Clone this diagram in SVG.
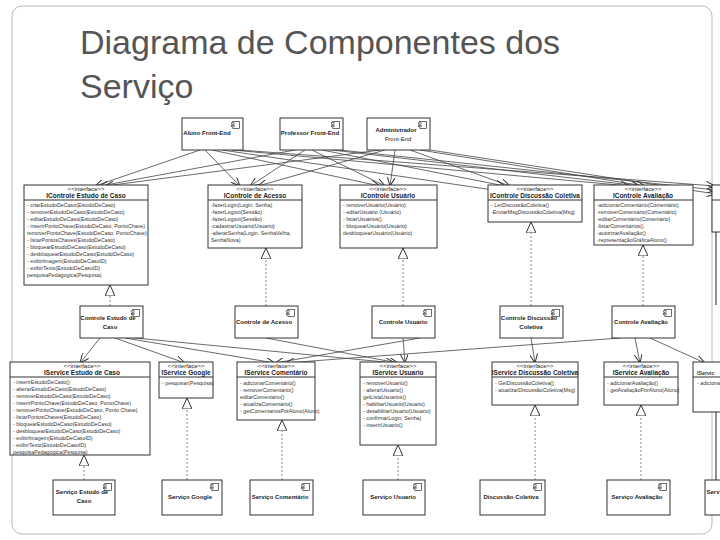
<svg xmlns="http://www.w3.org/2000/svg" width="720" height="540" viewBox="0 0 720 540">
<style>
.t{font-family:"Liberation Sans",Arial,sans-serif;fill:#555}
.b{fill:#fff;stroke:#333;stroke-width:1}
.s{font-family:"Liberation Sans",Arial,sans-serif;font-size:5.3px;fill:#333}
.n{font-family:"Liberation Sans",Arial,sans-serif;font-size:6.5px;fill:#222;font-weight:bold;text-anchor:middle}
.c{font-family:"Liberation Sans",Arial,sans-serif;font-size:6px;fill:#222;text-anchor:middle}
.l{stroke:#444;stroke-width:0.8;fill:none}
.d{stroke:#666;stroke-width:0.8;stroke-dasharray:2,2;fill:none}
</style>
<defs>
<marker id="a" markerWidth="10" markerHeight="8" refX="9" refY="4" orient="auto" markerUnits="userSpaceOnUse"><path d="M0,0 L9,4 L0,8" fill="none" stroke="#333"/></marker>
<marker id="tr" markerWidth="12" markerHeight="10" refX="11" refY="5" orient="auto" markerUnits="userSpaceOnUse"><path d="M0,0 L11,5 L0,10 Z" fill="#fff" stroke="#333"/></marker>
<symbol id="ic" viewBox="0 0 10 9"><rect x="2" y="0.5" width="7.5" height="8" fill="#fff" stroke="#333" stroke-width="0.8"/><rect x="0.5" y="2" width="3" height="1.5" fill="#fff" stroke="#333" stroke-width="0.6"/><rect x="0.5" y="5" width="3" height="1.5" fill="#fff" stroke="#333" stroke-width="0.6"/></symbol>
</defs>
<rect x="12" y="6" width="700" height="528" rx="10" fill="#fff" stroke="#bbb"/>
<text class="t" x="80" y="54" font-size="34">Diagrama de Componentes dos</text>
<text class="t" x="80" y="98" font-size="34">Serviço</text>

<g id="connectors">
<g class="l" marker-end="url(#a)">
<path class="l" marker-end="url(#a)" d="M200,150 L95,186"/><path class="l" marker-end="url(#a)" d="M205,150 L240,186"/><path class="l" marker-end="url(#a)" d="M212,150 L380,186"/><path class="l" marker-end="url(#a)" d="M222,150 L500,191"/><path class="l" marker-end="url(#a)" d="M232,150 L630,186"/><path class="l" marker-end="url(#a)" d="M240,150 L715,186"/>
<path class="l" marker-end="url(#a)" d="M295,150 L100,186"/><path class="l" marker-end="url(#a)" d="M305,150 L250,186"/><path class="l" marker-end="url(#a)" d="M312,150 L385,186"/><path class="l" marker-end="url(#a)" d="M322,150 L505,186"/><path class="l" marker-end="url(#a)" d="M332,150 L640,186"/><path class="l" marker-end="url(#a)" d="M340,150 L716,190"/>
<path class="l" marker-end="url(#a)" d="M380,150 L105,186"/><path class="l" marker-end="url(#a)" d="M385,150 L258,186"/><path class="l" marker-end="url(#a)" d="M395,150 L390,186"/><path class="l" marker-end="url(#a)" d="M410,150 L510,186"/><path class="l" marker-end="url(#a)" d="M420,150 L645,186"/><path class="l" marker-end="url(#a)" d="M430,150 L716,194"/>
<path class="l" marker-end="url(#a)" d="M100,338 L80,363"/><path class="l" marker-end="url(#a)" d="M115,338 L185,363"/><path class="l" marker-end="url(#a)" d="M125,338 L275,363"/><path class="l" marker-end="url(#a)" d="M135,338 L395,363"/><path class="l" marker-end="url(#a)" d="M266,338 L398,363"/><path class="l" marker-end="url(#a)" d="M403,338 L405,363"/><path class="l" marker-end="url(#a)" d="M531,338 L535,363"/><path class="l" marker-end="url(#a)" d="M635,338 L640,363"/><path class="l" marker-end="url(#a)" d="M650,338 L705,363"/><path class="l" marker-end="url(#a)" d="M620,338 L285,363"/><path class="l" marker-end="url(#a)" d="M420,338 L275,363"/>
</g>
<path class="d" marker-end="url(#tr)" d="M110,306 L110,285"/><path class="d" marker-end="url(#tr)" d="M266,306 L266,248"/><path class="d" marker-end="url(#tr)" d="M403,306 L403,248"/><path class="d" marker-end="url(#tr)" d="M531,306 L531,222"/><path class="d" marker-end="url(#tr)" d="M643,306 L643,245"/>
<path class="d" marker-end="url(#tr)" d="M84,480 L84,455"/><path class="d" marker-end="url(#tr)" d="M187,480 L187,398"/><path class="d" marker-end="url(#tr)" d="M282,480 L282,420"/><path class="d" marker-end="url(#tr)" d="M398,480 L398,445"/><path class="d" marker-end="url(#tr)" d="M535,480 L535,405"/><path class="d" marker-end="url(#tr)" d="M641,480 L641,405"/>
<path d="M716,412 L716,480" stroke="#222" stroke-width="1"/>
<path d="M716,232 L716,305" stroke="#222" stroke-width="1"/>
</g>

<g id="aluno"><rect class="b" x="182" y="118" width="61" height="32"/><use href="#ic" x="231" y="121" width="9" height="8"/><text class="c" x="207" y="135" font-weight="bold">Aluno Front-End</text></g>
<g id="professor"><rect class="b" x="280" y="118" width="63" height="32"/><use href="#ic" x="331" y="121" width="9" height="8"/><text class="c" x="310" y="135" font-weight="bold">Professor Front-End</text></g>
<g id="admin"><rect class="b" x="367" y="118" width="63" height="32"/><use href="#ic" x="418" y="121" width="9" height="8"/><text class="c" x="396" y="132" font-weight="bold">Administrador</text><text class="c" x="398" y="141">Front-End</text></g>

<g id="ice"><rect class="b" x="24" y="185" width="124" height="100"/><line x1="24" y1="200" x2="148" y2="200" stroke="#333"/><text class="c" x="86" y="191" font-size="5.5">&lt;&lt;interface&gt;&gt;</text><text class="n" x="86" y="198">IControle Estudo de Caso</text>
<text class="s" x="27" y="207">- criarEstudoDeCaso(EstudoDeCaso)</text><text class="s" x="27" y="214">- removerEstudoDeCaso(EstudoDeCaso)</text><text class="s" x="27" y="221">- editarEstudoDeCaso(EstudoDeCaso)</text><text class="s" x="27" y="228">- inserirPontoChave(EstudoDeCaso, PontoChave)</text><text class="s" x="27" y="235">  removerPontoChave(EstudoDeCaso, PontoChave)</text><text class="s" x="27" y="242">- listarPontosChaves(EstudoDeCaso)</text><text class="s" x="27" y="249">- bloquearEstudoDeCaso(EstudoDeCaso)</text><text class="s" x="27" y="256">- desbloquearEstudoDeCaso(EstudoDeCaso)</text><text class="s" x="27" y="263">- exibirImagem(EstudoDeCasoID)</text><text class="s" x="27" y="270">- exibirTexto(EstudoDeCasoID)</text><text class="s" x="27" y="277">  pesquisaPedagogica(Pesquisa)</text></g>
<g id="ica"><rect class="b" x="208" y="185" width="94" height="63"/><line x1="208" y1="200" x2="302" y2="200" stroke="#333"/><text class="c" x="255" y="191" font-size="5.5">&lt;&lt;interface&gt;&gt;</text><text class="n" x="255" y="198">IControle de Acesso</text>
<text class="s" x="211" y="207">-fazerLogin(Login, Senha)</text><text class="s" x="211" y="214">-fazerLogout(Sessão)</text><text class="s" x="211" y="221">-fazerLogout(Sessão)</text><text class="s" x="211" y="228">-cadastrarUsuario(Usuario)</text><text class="s" x="211" y="235">-alterarSenha(Login, SenhaVelha,</text><text class="s" x="211" y="242">SenhaNova)</text></g>
<g id="icu"><rect class="b" x="340" y="185" width="97" height="63"/><line x1="340" y1="200" x2="437" y2="200" stroke="#333"/><text class="c" x="388" y="191" font-size="5.5">&lt;&lt;interface&gt;&gt;</text><text class="n" x="388" y="198">IControle Usuário</text>
<text class="s" x="343" y="207">- removerUsuário(Usuário)</text><text class="s" x="343" y="214">- editarUsuário (Usuário)</text><text class="s" x="343" y="221">- listarUsuários()</text><text class="s" x="343" y="228">- bloquearUsuário(Usuário)</text><text class="s" x="343" y="235">  desbloquearUsuário(Usuário)</text></g>
<g id="icd"><rect class="b" x="488" y="185" width="94" height="37"/><line x1="488" y1="200" x2="582" y2="200" stroke="#333"/><text class="c" x="535" y="191" font-size="5.5">&lt;&lt;interface&gt;&gt;</text><text class="n" x="535" y="198" font-size="6">IControle Discussão Coletiva</text>
<text class="s" x="491" y="207">- LerDiscussãoColetiva()</text><text class="s" x="491" y="214">-EnviarMsgDiscussãoColetiva(Msg)</text></g>
<g id="icav"><rect class="b" x="594" y="185" width="99" height="60"/><line x1="594" y1="200" x2="693" y2="200" stroke="#333"/><text class="c" x="643" y="191" font-size="5.5">&lt;&lt;interface&gt;&gt;</text><text class="n" x="643" y="198">IControle Avaliação</text>
<text class="s" x="597" y="207">-adicionarComentário(Comentário)</text><text class="s" x="597" y="214">-removerComentário(Comentário)</text><text class="s" x="597" y="221">-editarComentário(Comentário)</text><text class="s" x="597" y="228">-listarComentários()</text><text class="s" x="597" y="235">-autorizarAvaliação()</text><text class="s" x="597" y="242">-representaçãoGráficaAluno()</text></g>
<g id="icx"><rect class="b" x="712" y="185" width="20" height="47"/><line x1="712" y1="200" x2="720" y2="200" stroke="#333"/></g>

<g id="cec"><rect class="b" x="80" y="306" width="63" height="32"/><use href="#ic" x="131" y="309" width="9" height="8"/><text class="c" x="108" y="320" font-weight="bold">Controle Estudo de</text><text class="c" x="110" y="329" font-weight="bold">Caso</text></g>
<g id="cac"><rect class="b" x="235" y="306" width="63" height="32"/><use href="#ic" x="286" y="309" width="9" height="8"/><text class="c" x="264" y="324" font-weight="bold">Controle de Acesso</text></g>
<g id="cus"><rect class="b" x="372" y="306" width="63" height="32"/><use href="#ic" x="423" y="309" width="9" height="8"/><text class="c" x="403" y="324" font-weight="bold">Controle Usuario</text></g>
<g id="cdc"><rect class="b" x="500" y="306" width="63" height="32"/><use href="#ic" x="551" y="309" width="9" height="8"/><text class="c" x="529" y="320" font-weight="bold">Controle Discussão</text><text class="c" x="531" y="329" font-weight="bold">Coletiva</text></g>
<g id="cav"><rect class="b" x="612" y="306" width="63" height="32"/><use href="#ic" x="663" y="309" width="9" height="8"/><text class="c" x="641" y="324" font-weight="bold">Controle Avaliação</text></g>

<g id="isec"><rect class="b" x="10" y="362" width="140" height="93"/><line x1="10" y1="377" x2="150" y2="377" stroke="#333"/><text class="c" x="82" y="368" font-size="5.5">&lt;&lt;interface&gt;&gt;</text><text class="n" x="82" y="375">IService Estudo de Caso</text>
<text class="s" x="13" y="384">- inserirEstudoDeCaso()</text><text class="s" x="13" y="391">- alterarEstudoDeCaso(EstudoDeCaso)</text><text class="s" x="13" y="398">- removerEstudoDeCaso(EstudoDeCaso)</text><text class="s" x="13" y="405">- inserirPontoChave(EstudoDeCaso, PontoChave)</text><text class="s" x="13" y="412">- removerPontoChave(EstudoDeCaso, Ponto Chave)</text><text class="s" x="13" y="419">- listarPontosChaves(EstudoDeCaso)</text><text class="s" x="13" y="426">- bloquearEstudoDeCaso(EstudoDeCaso)</text><text class="s" x="13" y="433">- desbloquearEstudoDeCaso(EstudoDeCaso)</text><text class="s" x="13" y="440">- exibirImagem(EstudoDeCasoID)</text><text class="s" x="13" y="447">- exibirTexto(EstudoDeCasoID)</text><text class="s" x="13" y="454">  pesquisaPedagogica(Pesquisa)</text></g>
<g id="isg"><rect class="b" x="159" y="362" width="54" height="36"/><line x1="159" y1="377" x2="213" y2="377" stroke="#333"/><text class="c" x="186" y="368" font-size="5.5">&lt;&lt;interface&gt;&gt;</text><text class="n" x="186" y="375" font-size="6">IService Google</text><text class="s" x="162" y="385">- pesquisar(Pesquisa)</text></g>
<g id="isc"><rect class="b" x="237" y="362" width="78" height="58"/><line x1="237" y1="377" x2="315" y2="377" stroke="#333"/><text class="c" x="276" y="368" font-size="5.5">&lt;&lt;interface&gt;&gt;</text><text class="n" x="276" y="375">IService Comentário</text>
<text class="s" x="240" y="385">- adicionarComentário()</text><text class="s" x="240" y="392">- removerComentário()</text><text class="s" x="240" y="399">  editarComentário()</text><text class="s" x="240" y="406">- atualizaComentário()</text><text class="s" x="240" y="413">- getComentariosPorAluno(Aluno)</text></g>
<g id="isu"><rect class="b" x="360" y="362" width="76" height="83"/><line x1="360" y1="377" x2="436" y2="377" stroke="#333"/><text class="c" x="398" y="368" font-size="5.5">&lt;&lt;interface&gt;&gt;</text><text class="n" x="398" y="375">IService Usuario</text>
<text class="s" x="363" y="385">- removerUsuario()</text><text class="s" x="363" y="392">- alterarUsuario()</text><text class="s" x="363" y="399">  getListaUsuarios()</text><text class="s" x="363" y="406">- habilitarUsuario(Usuario)</text><text class="s" x="363" y="413">- desabilitarUsuario(Usuario)</text><text class="s" x="363" y="420">- confirmarLogin, Senha)</text><text class="s" x="363" y="427">- inserirUsuario()</text></g>
<g id="isd"><rect class="b" x="492" y="362" width="86" height="43"/><line x1="492" y1="377" x2="578" y2="377" stroke="#333"/><text class="c" x="535" y="368" font-size="5.5">&lt;&lt;interface&gt;&gt;</text><text class="n" x="535" y="375" font-size="5.8">IService Discussão Coletiva</text>
<text class="s" x="495" y="385">- GetDiscussãoColetiva()</text><text class="s" x="495" y="392">- atualizarDiscussãoColetiva(Msg)</text></g>
<g id="isav"><rect class="b" x="604" y="362" width="74" height="43"/><line x1="604" y1="377" x2="678" y2="377" stroke="#333"/><text class="c" x="641" y="368" font-size="5.5">&lt;&lt;interface&gt;&gt;</text><text class="n" x="641" y="375">IService Avaliação</text>
<text class="s" x="607" y="385">- adicionarAvaliação()</text><text class="s" x="607" y="392">- getAvaliaçãoPorAluno(Aluno)</text></g>
<g id="isx"><rect class="b" x="693" y="362" width="40" height="50"/><line x1="693" y1="377" x2="720" y2="377" stroke="#333"/><text class="s" x="697" y="375" font-weight="bold">IServic</text><text class="s" x="697" y="385">- adiciona</text></g>

<g id="sec"><rect class="b" x="53" y="480" width="62" height="35"/><use href="#ic" x="103" y="483" width="9" height="8"/><text class="c" x="82" y="494" font-weight="bold">Serviço Estudo de</text><text class="c" x="84" y="503" font-weight="bold">Caso</text></g>
<g id="sg"><rect class="b" x="162" y="480" width="60" height="35"/><use href="#ic" x="210" y="483" width="9" height="8"/><text class="c" x="190" y="499" font-weight="bold">Serviço Google</text></g>
<g id="sc"><rect class="b" x="250" y="480" width="63" height="35"/><use href="#ic" x="301" y="483" width="9" height="8"/><text class="c" x="280" y="499" font-weight="bold">Serviço Comentário</text></g>
<g id="su"><rect class="b" x="363" y="480" width="62" height="35"/><use href="#ic" x="413" y="483" width="9" height="8"/><text class="c" x="393" y="499" font-weight="bold">Serviço Usuario</text></g>
<g id="sd"><rect class="b" x="480" y="480" width="65" height="35"/><use href="#ic" x="533" y="483" width="9" height="8"/><text class="c" x="511" y="499" font-weight="bold">Discussão Coletiva</text></g>
<g id="sav"><rect class="b" x="607" y="480" width="63" height="35"/><use href="#ic" x="658" y="483" width="9" height="8"/><text class="c" x="637" y="499" font-weight="bold">Serviço Avaliação</text></g>
<g id="sx"><rect class="b" x="705" y="480" width="30" height="35"/><text class="c" x="713" y="494" font-weight="bold" font-size="5.5">Serv</text></g>
</svg>
